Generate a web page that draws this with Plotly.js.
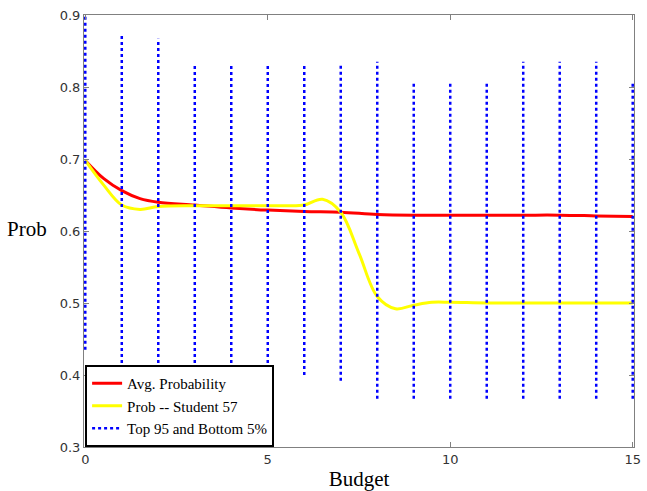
<!DOCTYPE html>
<html>
<head>
<meta charset="utf-8">
<script src="https://cdn.plot.ly/plotly-3.0.1.min.js"></script>
<style>html,body{margin:0;padding:0;background:#fff;}#chart{width:647px;height:491px;}</style>
</head>
<body>
<div id="chart"></div>
<script>
// Average probability curve
var avgBudget = [0, 0.5, 1, 1.5, 2, 3, 4, 5, 6, 7, 8, 9, 10, 11, 12, 13, 14, 15];
var avgProb   = [0.698, 0.673, 0.656, 0.645, 0.640, 0.636, 0.632, 0.629, 0.627, 0.626, 0.623, 0.622, 0.622, 0.622, 0.622, 0.622, 0.621, 0.620];

// Student 57 curve
var stuBudget = [0, 0.5, 1, 1.5, 2, 3, 4, 5, 5.5, 6, 6.5, 7, 7.5, 8, 8.5, 9, 9.5, 10, 11, 12, 13, 14, 15];
var stuProb   = [0.698, 0.664, 0.636, 0.630, 0.634, 0.635, 0.635, 0.635, 0.635, 0.636, 0.644, 0.626, 0.569, 0.509, 0.492, 0.497, 0.501, 0.501, 0.500, 0.500, 0.500, 0.500, 0.500];

// Top 95% / bottom 5% bands
var bandBudget = [0, 1, 2, 3, 4, 5, 6, 7, 8, 9, 10, 11, 12, 13, 14, 15];
var bandLow    = [0.435, 0.400, 0.400, 0.400, 0.400, 0.400, 0.400, 0.392, 0.367, 0.367, 0.367, 0.367, 0.367, 0.367, 0.367, 0.367];
var bandHigh   = [0.900, 0.875, 0.867, 0.833, 0.833, 0.833, 0.833, 0.832, 0.835, 0.807, 0.807, 0.807, 0.835, 0.835, 0.835, 0.807];

var xTickVals = [0, 5, 10, 15];
var yTickVals = [0.3, 0.4, 0.5, 0.6, 0.7, 0.8, 0.9];
var yTickText = ['0.3', '0.4', '0.5', '0.6', '0.7', '0.8', '0.9'];

var bx = [], by = [];
for (var i = 0; i < bandBudget.length; i++) {
  bx.push(bandBudget[i], bandBudget[i], null);
  by.push(bandLow[i], bandHigh[i], null);
}

var traces = [
  {x: avgBudget, y: avgProb, mode: 'lines', name: 'Avg. Probability',
   line: {color: '#ff0000', width: 3, shape: 'spline', smoothing: 1}},
  {x: stuBudget, y: stuProb, mode: 'lines', name: 'Prob -- Student 57',
   line: {color: '#ffff00', width: 3, shape: 'spline', smoothing: 1}},
  {x: bx, y: by, mode: 'lines', name: 'Top 95 and Bottom 5%', connectgaps: false,
   line: {color: '#0000ff', width: 2.5, dash: 'dot'}}
];

var axisCommon = {
  showgrid: false, zeroline: false, showline: true, linecolor: '#808080', linewidth: 1,
  mirror: 'ticks', ticks: 'inside', ticklen: 5, tickcolor: '#808080',
  tickfont: {family: 'DejaVu Sans, sans-serif', size: 13, color: '#333333'}
};

var layout = {
  width: 647, height: 491,
  margin: {l: 84, r: 13, t: 15, b: 44},
  paper_bgcolor: '#ffffff', plot_bgcolor: '#ffffff',
  showlegend: true,
  xaxis: Object.assign({}, axisCommon, {
    range: [-0.035, 15.035], tickvals: xTickVals, ticktext: xTickVals.map(String),
    title: {text: 'Budget', font: {family: 'Liberation Serif, serif', size: 21, color: '#000'}, standoff: 10}
  }),
  yaxis: Object.assign({}, axisCommon, {
    range: [0.3, 0.9], tickvals: yTickVals, ticktext: yTickText
  }),
  legend: {
    x: 0.002, y: 0, xanchor: 'left', yanchor: 'bottom',
    bgcolor: '#ffffff', bordercolor: '#000000', borderwidth: 2,
    font: {family: 'Liberation Serif, serif', size: 15, color: '#000'},
    itemwidth: 30, tracegroupgap: 0
  },
  annotations: [{
    text: 'Prob', xref: 'paper', yref: 'paper', x: -0.063, y: 0.505,
    xanchor: 'right', yanchor: 'middle', showarrow: false,
    font: {family: 'Liberation Serif, serif', size: 21, color: '#000'}
  }]
};

Plotly.newPlot('chart', traces, layout, {displayModeBar: false, staticPlot: true});
</script>
</body>
</html>
